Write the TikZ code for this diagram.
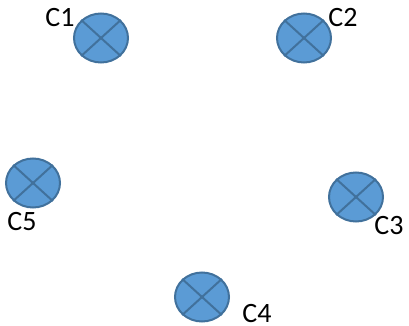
\documentclass[tikz,border=0pt]{standalone}
\usepackage{fontspec}
\setmainfont{Carlito}
\usetikzlibrary{shapes.geometric}
\definecolor{cfill}{HTML}{5B9BD5}
\definecolor{cline}{HTML}{41719C}
\begin{document}
\begin{tikzpicture}[x=1pt,y=-1pt,
  lamp/.style={ellipse, draw=cline, fill=cfill, line width=2pt, minimum width=54pt, minimum height=49pt, inner sep=0pt},
  crossline/.style={cline, line width=2pt},
  lbl/.style={font=\fontsize{28}{28}\selectfont, inner sep=0pt}]
\useasboundingbox (0,0) rectangle (409,326);
\node[lamp] (c1) at (101,38) {};
\node[lamp] (c2) at (304,38) {};
\node[lamp] (c3) at (356,197) {};
\node[lamp] (c4) at (202,297) {};
\node[lamp] (c5) at (33,183) {};
\foreach \n in {c1,c2,c3,c4,c5}{
  \draw[crossline] (\n.north west) -- (\n.south east);
  \draw[crossline] (\n.north east) -- (\n.south west);
}
\node[lbl] (l1) at (60,18) {C1};
\node[lbl] (l2) at (343,18) {C2};
\node[lbl] (l3) at (389,226) {C3};
\node[lbl] (l4) at (257,314) {C4};
\node[lbl] (l5) at (22,222) {C5};
\end{tikzpicture}
\end{document}
